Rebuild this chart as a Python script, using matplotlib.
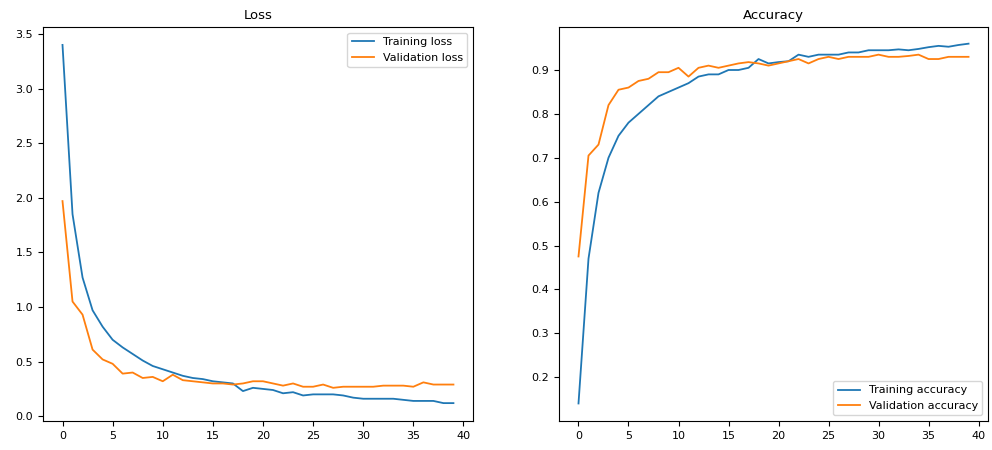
import matplotlib
matplotlib.use("Agg")
import matplotlib.pyplot as plt

epochs = list(range(40))

train_loss = [3.40, 1.85, 1.27, 0.97, 0.82, 0.70, 0.63, 0.57, 0.51, 0.46,
              0.43, 0.40, 0.37, 0.35, 0.34, 0.32, 0.31, 0.30, 0.23, 0.26,
              0.25, 0.24, 0.21, 0.22, 0.19, 0.20, 0.20, 0.20, 0.19, 0.17,
              0.16, 0.16, 0.16, 0.16, 0.15, 0.14, 0.14, 0.14, 0.12, 0.12]
val_loss = [1.97, 1.05, 0.93, 0.61, 0.52, 0.48, 0.39, 0.40, 0.35, 0.36,
            0.32, 0.38, 0.33, 0.32, 0.31, 0.30, 0.30, 0.29, 0.30, 0.32,
            0.32, 0.30, 0.28, 0.30, 0.27, 0.27, 0.29, 0.26, 0.27, 0.27,
            0.27, 0.27, 0.28, 0.28, 0.28, 0.27, 0.31, 0.29, 0.29, 0.29]

train_acc = [0.14, 0.47, 0.62, 0.70, 0.75, 0.78, 0.80, 0.82, 0.84, 0.85,
             0.86, 0.87, 0.885, 0.89, 0.89, 0.90, 0.90, 0.905, 0.925, 0.915,
             0.918, 0.92, 0.935, 0.93, 0.935, 0.935, 0.935, 0.94, 0.94, 0.945,
             0.945, 0.945, 0.947, 0.945, 0.948, 0.952, 0.955, 0.953, 0.957, 0.96]
val_acc = [0.475, 0.705, 0.73, 0.82, 0.855, 0.86, 0.875, 0.88, 0.895, 0.895,
           0.905, 0.885, 0.905, 0.91, 0.905, 0.91, 0.915, 0.918, 0.915, 0.91,
           0.915, 0.92, 0.925, 0.915, 0.925, 0.93, 0.925, 0.93, 0.93, 0.93,
           0.935, 0.93, 0.93, 0.932, 0.935, 0.925, 0.925, 0.93, 0.93, 0.93]

acc_ticks = [0.2, 0.3, 0.4, 0.5, 0.6, 0.7, 0.8, 0.9]

plt.rcParams['font.size'] = 8

fig = plt.figure(figsize=(9.92, 4.5), dpi=100)
ax1 = fig.add_axes([0.0433, 0.0644, 0.4335, 0.8756])
ax2 = fig.add_axes([0.5635, 0.0644, 0.4325, 0.8756])

ax1.plot(epochs, train_loss, label="Training loss", lw=1.3)
ax1.plot(epochs, val_loss, label="Validation loss", lw=1.3)
ax1.set_title("Loss", fontsize=9.5)
ax1.legend(loc="upper right")

ax2.plot(epochs, train_acc, label="Training accuracy", lw=1.3)
ax2.plot(epochs, val_acc, label="Validation accuracy", lw=1.3)
ax2.set_yticks(acc_ticks)
ax2.set_ylim(0.1, 0.998)
ax2.set_title("Accuracy", fontsize=9.5)
ax2.legend(loc="lower right")

fig.savefig("out.png", dpi=100)
